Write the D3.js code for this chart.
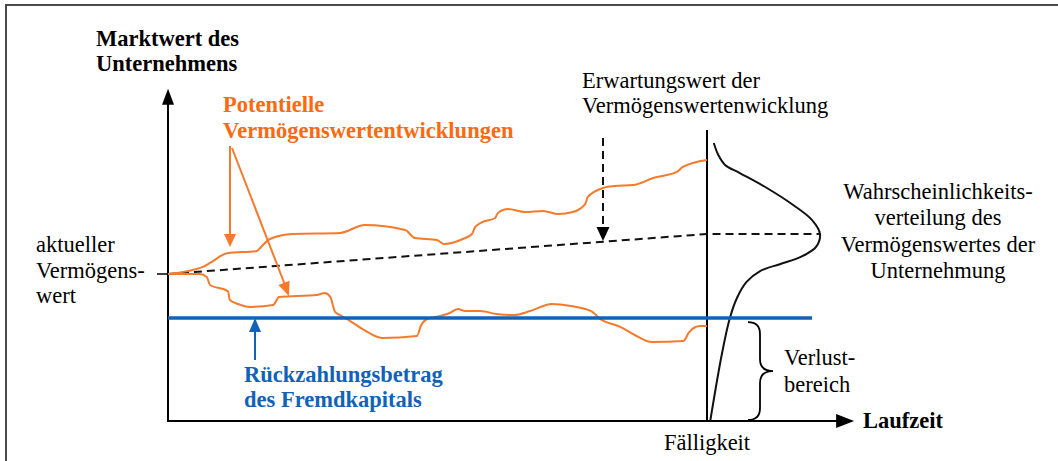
<!DOCTYPE html>
<html>
<head>
<meta charset="utf-8">
<script src="https://cdn.jsdelivr.net/npm/d3@7"></script>
<style>
  body { margin: 0; background: #fff; }
</style>
</head>
<body>
<div id="chart"></div>
<script>
// time in years (maturity at 10), value in abstract units (current value = 100)
var maturity = 10;
var currentValue = 100;
var debtAmount = 70;
var expectedAtMaturity = 127.2;
var tMax = 12.73;      // end of time axis
var vMax = 226;        // end of value axis
var maturityLineTop = 198;
var debtLineEnd = 11.95;

// upper potential path
var upperTime = [0, 0.65, 0.78, 1.11, 1.65, 1.71, 1.89, 2.32, 3.19, 3.65, 4.40, 4.58, 4.99, 5.12, 5.47, 5.64, 5.70, 5.84, 6.07, 6.12, 6.31, 6.62, 6.96, 7.24, 7.51, 7.74, 7.79, 8.07, 8.29, 8.63, 9.00, 9.44, 9.55, 10];
var upperValue = [100, 104.8, 107.5, 114.3, 115.6, 117.7, 123.8, 127.2, 127.9, 133.3, 129.9, 124.5, 123.1, 120.4, 123.8, 127.2, 132.0, 135.4, 138.1, 141.5, 144.2, 142.2, 142.9, 140.8, 142.2, 147.6, 152.4, 158.5, 159.9, 160.5, 165.3, 169.4, 172.8, 177.6];

// lower potential path
var lowerTime = [0, 0.59, 0.72, 0.78, 1.11, 1.15, 1.30, 1.52, 1.95, 2.06, 2.76, 2.91, 3.01, 3.10, 3.19, 3.38, 3.64, 3.97, 4.62, 4.69, 4.81, 5.05, 5.23, 5.38, 5.51, 5.79, 6.10, 6.42, 6.72, 7.12, 7.48, 7.85, 8.02, 8.39, 8.66, 8.98, 9.56, 9.67, 9.87, 10];
var lowerValue = [100, 100, 98.0, 92.5, 88.4, 82.3, 79.6, 77.6, 78.9, 84.4, 85.7, 87.1, 84.4, 74.2, 72.1, 68.0, 61.9, 56.5, 57.8, 64.6, 69.4, 71.4, 73.5, 76.2, 74.8, 74.8, 72.8, 72.1, 74.8, 79.6, 78.2, 74.8, 69.4, 64.0, 58.5, 53.7, 54.4, 60.5, 64.6, 64.6];

// probability distribution of the value at maturity (relative density)
var distValue = [189.1, 181.0, 174.2, 168.7, 158.5, 147.6, 136.7, 127.2, 118.4, 111.6, 106.8, 102.0, 94.6, 83.7, 69.4, 44.9, 0.7];
var distDensity = [0.06, 0.10, 0.16, 0.29, 0.53, 0.75, 0.93, 1.0, 0.965, 0.83, 0.65, 0.47, 0.35, 0.265, 0.20, 0.13, 0.03];

var width = 1058, height = 461;
var orangeText = '#fb6a10', orangeLine = '#f67a2c', blue = '#1262b8';
var serif = '"Liberation Serif", Tinos, "Times New Roman", "DejaVu Serif", serif';

var svg = d3.select('#chart').append('svg')
  .attr('width', width)
  .attr('height', height)
  .attr('font-family', serif)
  .style('font-family', serif);

var x = d3.scaleLinear().domain([0, maturity]).range([168, 707]);
var y = d3.scaleLinear().domain([0, currentValue]).range([421, 274]);
var dens = d3.scaleLinear().domain([0, 1]).range([x(maturity), 820]);

// outer frame
svg.append('rect')
  .attr('x', 6).attr('y', 5)
  .attr('width', width + 20).attr('height', height + 20)
  .attr('fill', 'none')
  .attr('stroke', '#4a4a4a')
  .attr('stroke-width', 2);

function arrowHead(tipX, tipY, fromX, fromY, len, half, color) {
  var dx = tipX - fromX, dy = tipY - fromY;
  var l = Math.sqrt(dx * dx + dy * dy);
  var ux = dx / l, uy = dy / l;
  var bx = tipX - ux * len, by = tipY - uy * len;
  svg.append('path')
    .attr('d', 'M' + tipX + ',' + tipY +
      'L' + (bx - uy * half) + ',' + (by + ux * half) +
      'L' + (bx + uy * half) + ',' + (by - ux * half) + 'Z')
    .attr('fill', color);
}

// axes
svg.append('line')
  .attr('x1', x(0)).attr('y1', y(0))
  .attr('x2', x(0)).attr('y2', y(vMax) + 10)
  .attr('stroke', '#000').attr('stroke-width', 2);
arrowHead(x(0), y(vMax), x(0), y(0), 16, 6, '#000');

svg.append('line')
  .attr('x1', x(0) - 1).attr('y1', y(0))
  .attr('x2', x(tMax) - 10).attr('y2', y(0))
  .attr('stroke', '#000').attr('stroke-width', 2);
arrowHead(x(tMax), y(0), x(0), y(0), 18, 7, '#000');

// maturity line
svg.append('line')
  .attr('x1', x(maturity)).attr('y1', y(0))
  .attr('x2', x(maturity)).attr('y2', y(maturityLineTop))
  .attr('stroke', '#000').attr('stroke-width', 2);

// leader for current value
svg.append('line')
  .attr('x1', x(0) - 11).attr('y1', y(currentValue))
  .attr('x2', x(0)).attr('y2', y(currentValue))
  .attr('stroke', '#000').attr('stroke-width', 1.5);

// expected value (dashed)
svg.append('path')
  .attr('d', d3.line()([[x(0), y(currentValue)], [x(maturity), y(expectedAtMaturity)], [dens(1), y(expectedAtMaturity)]]))
  .attr('fill', 'none')
  .attr('stroke', '#111')
  .attr('stroke-width', 2)
  .attr('stroke-dasharray', '8,5');

// distribution
svg.append('path')
  .datum(distValue.map((v, i) => [dens(distDensity[i]), y(v)]))
  .attr('d', d3.line().curve(d3.curveCatmullRom.alpha(0.5)))
  .attr('fill', 'none')
  .attr('stroke', '#111')
  .attr('stroke-width', 2);

// potential paths
var pathLine = d3.line()
  .x(d => x(d[0]))
  .y(d => y(d[1]))
  .curve(d3.curveMonotoneX);

svg.append('path')
  .datum(upperTime.map((t, i) => [t, upperValue[i]]))
  .attr('d', pathLine)
  .attr('fill', 'none')
  .attr('stroke', orangeLine)
  .attr('stroke-width', 2);

svg.append('path')
  .datum(lowerTime.map((t, i) => [t, lowerValue[i]]))
  .attr('d', pathLine)
  .attr('fill', 'none')
  .attr('stroke', orangeLine)
  .attr('stroke-width', 2);

// debt line
svg.append('line')
  .attr('x1', x(0)).attr('y1', y(debtAmount))
  .attr('x2', x(debtLineEnd)).attr('y2', y(debtAmount))
  .attr('stroke', blue).attr('stroke-width', 3.5);

// loss region brace
var bt = y(debtAmount) + 4, bb = y(0) - 1, bm = (bt + bb) / 2;
var bx0 = x(maturity) + 41, bx1 = bx0 + 12, bx2 = bx0 + 25;
svg.append('path')
  .attr('d', 'M' + bx0 + ',' + bt + ' Q' + bx1 + ',' + bt + ' ' + bx1 + ',' + (bt + 12) +
    ' L' + bx1 + ',' + (bm - 12) + ' Q' + bx1 + ',' + bm + ' ' + bx2 + ',' + bm +
    ' Q' + bx1 + ',' + bm + ' ' + bx1 + ',' + (bm + 12) +
    ' L' + bx1 + ',' + (bb - 12) + ' Q' + bx1 + ',' + bb + ' ' + bx0 + ',' + bb)
  .attr('fill', 'none')
  .attr('stroke', '#000')
  .attr('stroke-width', 1.8);

// annotation arrows
svg.append('line')
  .attr('x1', 230).attr('y1', 146).attr('x2', 230).attr('y2', 236)
  .attr('stroke', orangeLine).attr('stroke-width', 2);
arrowHead(230, 247, 230, 146, 13, 6, orangeLine);

svg.append('line')
  .attr('x1', 232).attr('y1', 148).attr('x2', 285).attr('y2', 285)
  .attr('stroke', orangeLine).attr('stroke-width', 2);
arrowHead(289, 296, 232, 148, 14, 6, orangeLine);

svg.append('line')
  .attr('x1', 603).attr('y1', 138).attr('x2', 603).attr('y2', 229)
  .attr('stroke', '#111').attr('stroke-width', 2)
  .attr('stroke-dasharray', '8,5');
arrowHead(603, 241, 603, 138, 14, 6.5, '#000');

svg.append('line')
  .attr('x1', 255).attr('y1', 360).attr('x2', 255).attr('y2', 330)
  .attr('stroke', blue).attr('stroke-width', 2);
arrowHead(255, 318, 255, 360, 14, 6, blue);

// texts
function label(lines, xPos, yPos, lh, opts) {
  var t = svg.append('text')
    .attr('x', xPos).attr('y', yPos)
    .attr('font-family', serif)
    .style('font-family', serif)
    .style('font-size', '22.5px')
    .style('font-weight', opts.bold ? 'bold' : 'normal')
    .attr('text-anchor', opts.anchor || 'start')
    .attr('fill', opts.color || '#000');
  lines.forEach((s, i) => {
    t.append('tspan').attr('x', xPos).attr('y', yPos + i * lh).text(s);
  });
}

label(['Marktwert des', 'Unternehmens'], 96, 46, 25, { bold: true });
label(['Potentielle', 'Vermögenswertentwicklungen'], 223, 112, 25.5, { bold: true, color: orangeText });
label(['Erwartungswert der', 'Vermögenswertenwicklung'], 582, 88, 25, {});
label(['Wahrscheinlichkeits-', 'verteilung des', 'Vermögenswertes der', 'Unternehmung'], 938, 199, 26.3, { anchor: 'middle' });
label(['aktueller', 'Vermögens-', 'wert'], 36, 252, 25.5, {});
label(['Rückzahlungsbetrag', 'des Fremdkapitals'], 244, 382, 25, { bold: true, color: blue });
label(['Verlust-', 'bereich'], 784, 365, 26.5, {});
label(['Fälligkeit'], x(maturity), 450, 25, { anchor: 'middle' });
label(['Laufzeit'], 863, 428, 25, { bold: true });
</script>
</body>
</html>
